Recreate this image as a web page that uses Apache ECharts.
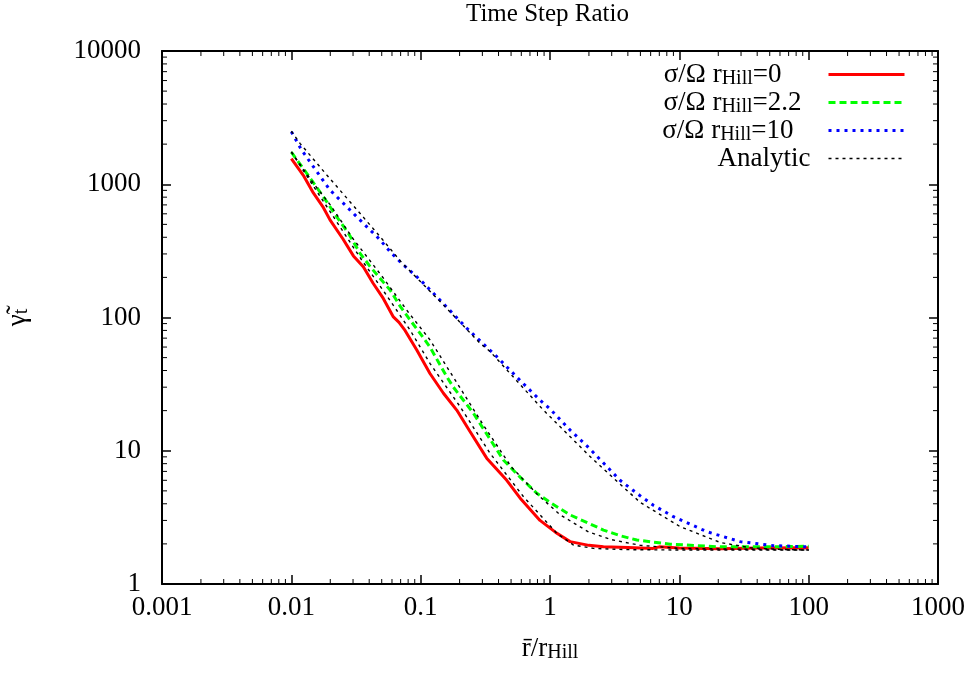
<!doctype html>
<html lang="en">
<head>
    <meta charset="UTF-8">
    <title>Time Step Ratio</title>
    <script src="https://cdn.jsdelivr.net/npm/echarts@6/dist/echarts.min.js"></script>
    <style>
        html, body { margin: 0; padding: 0; background: #fff; }
        #main { width: 971px; height: 674px; }
    </style>
</head>
<body>
<div id="main"></div>
<script type="text/javascript">
    // values: [r/rHill, gamma]
    var sigma0 = [[0.01,1560],[0.0125,1150],[0.0148,860],[0.0175,680],[0.0199,540],[0.025,390],[0.0302,290],[0.036,240],
        [0.043,180],[0.0514,139],[0.0615,101],[0.068,92],[0.0757,80],[0.0933,57],[0.118,38],[0.15,27],[0.19,20.2],
        [0.24,14],[0.324,8.8],[0.463,6.0],[0.6,4.3],[0.837,3.0],[1.1,2.45],[1.43,2.08],[2.0,1.95],[2.59,1.9],[4,1.88],
        [6.27,1.85],[7,1.9],[10,1.86],[20.7,1.84],[40,1.86],[100,1.87]];
    var sigma22 = [[0.01,1740],[0.01315,1208],[0.01766,807],[0.0224,571],[0.028,420],[0.034,303],[0.0407,241],[0.05,190],
        [0.058,161],[0.07,120],[0.0828,96],[0.1,75],[0.118,60],[0.159,36],[0.179,30],[0.256,19.1],[0.35,11.9],
        [0.436,8.53],[0.6,6.2],[0.791,4.8],[1.0,4.1],[1.43,3.3],[2.0,2.85],[2.59,2.54],[3.5,2.3],[4.69,2.14],
        [8.49,1.99],[20.7,1.9],[50,1.9],[100,1.92]];
    var sigma10 = [[0.01,2480],[0.012,1807],[0.0148,1355],[0.0199,905],[0.0268,679],[0.036,509],[0.0485,383],[0.058,312],
        [0.0693,262],[0.1,190],[0.1256,152],[0.2276,83],[0.388,50.8],[0.6,33],[0.837,24],[1.0,20.6],[1.43,14.3],
        [2.0,10.5],[2.44,8.6],[3.48,6.0],[4.97,4.6],[6.3,3.9],[9.0,3.2],[16.3,2.47],[29.5,2.08],[53.5,1.94],[100,1.9]];
    var analytic0 = [[0.01,1750],[0.015,950],[0.02,620],[0.025,445],[0.035,270],[0.0531,152],[0.0828,80.5],[0.118,45.3],
        [0.202,21.4],[0.344,9.57],[0.624,4.52],[1.13,2.4],[1.52,1.96],[2.17,1.85],[4,1.81],[10,1.8],[100,1.8]];
    var analytic22 = [[0.01,1750],[0.015,1000],[0.02,700],[0.03,390],[0.05,205],[0.08,110],[0.118,68],[0.2,30],
        [0.3,16],[0.5,7.6],[0.8,4.7],[1.2,3.3],[2,2.45],[3,2.15],[5,1.95],[10,1.85],[100,1.8]];
    var analytic10 = [[0.01,2500],[0.01167,2028],[0.0188,1173],[0.0302,690],[0.0485,405],[0.0714,258],[0.1456,128],
        [0.288,64],[0.344,55.6],[0.889,20.2],[2.1,8.8],[4.97,4.1],[10.1,2.7],[20.7,2.05],[35.3,1.87],[60,1.82],[100,1.8]];

    var xRange = [0.001, 1000];
    var yRange = [1, 10000];
    var minorSteps = [2, 3, 4, 5, 6, 7, 8, 9];
    var xDecades = [0.001, 0.01, 0.1, 1, 10, 100];
    var yDecades = [1, 10, 100, 1000];

    // gnuplot puts the key text a varying distance before the sample line
    var legendText = {
        sig0: '{a|σ/Ω r}{s|Hill}{a|=0}{g0|}',
        sig22: '{a|σ/Ω r}{s|Hill}{a|=2.2}{g1|}',
        sig10: '{a|σ/Ω r}{s|Hill}{a|=10}{g2|}',
        Analytic: '{a|Analytic}{g3|}'
    };

    var xMinor = [];
    xDecades.forEach(function (d) {
        minorSteps.forEach(function (m) { xMinor.push([+(d * m).toPrecision(6), yRange[0]]); });
    });
    var yMinor = [];
    yDecades.forEach(function (d) {
        minorSteps.forEach(function (m) { yMinor.push([xRange[0], d * m]); });
    });

    var font = 'Liberation Serif';
    var chart = echarts.init(document.getElementById('main'));

    function fmt(v) { return String(+(+v).toPrecision(6)); }

    function tickSeries(data, vertical) {
        return {
            type: 'custom',
            silent: true,
            clip: false,
            data: data,
            z: 10,
            renderItem: function (params, api) {
                var a, b, s = {stroke: '#000', lineWidth: 1};
                if (vertical) {
                    a = api.coord([api.value(0), yRange[0]]);
                    b = api.coord([api.value(0), yRange[1]]);
                    return {type: 'group', children: [
                        {type: 'line', shape: {x1: a[0], y1: a[1], x2: a[0], y2: a[1] - 5}, style: s},
                        {type: 'line', shape: {x1: b[0], y1: b[1], x2: b[0], y2: b[1] + 5}, style: s}
                    ]};
                }
                a = api.coord([xRange[0], api.value(1)]);
                b = api.coord([xRange[1], api.value(1)]);
                return {type: 'group', children: [
                    {type: 'line', shape: {x1: a[0], y1: a[1], x2: a[0] + 5, y2: a[1]}, style: s},
                    {type: 'line', shape: {x1: b[0], y1: b[1], x2: b[0] - 5, y2: b[1]}, style: s}
                ]};
            }
        };
    }

    var axisCommon = {
        type: 'log',
        logBase: 10,
        axisLine: {show: true, onZero: false, lineStyle: {color: '#000', width: 2}},
        axisTick: {show: true, inside: true, length: 9, lineStyle: {color: '#000', width: 1.5}},
        splitLine: {show: false},
        minorTick: {show: false}
    };

    var subRich = {
        a: {fontFamily: font, fontSize: 27, lineHeight: 28, color: '#000'},
        s: {fontFamily: font, fontSize: 20, lineHeight: 12, verticalAlign: 'bottom', color: '#000'}
    };

    var option = {
        backgroundColor: '#fff',
        animation: false,
        title: {
            text: 'Time Step Ratio',
            left: 466,
            top: 0,
            padding: [2, 0, 0, 0],
            textStyle: {fontFamily: font, fontSize: 25, fontWeight: 'normal', color: '#000'}
        },
        grid: {left: 162, right: 33, top: 51, bottom: 90, outerBoundsMode: 'none', containLabel: false},
        legend: {
            data: [
                {name: 'sig0', lineStyle: {width: 3, type: 'solid'}},
                {name: 'sig22', lineStyle: {width: 3, type: [7, 4]}},
                {name: 'sig10', lineStyle: {width: 3, type: [3, 5]}},
                {name: 'Analytic', lineStyle: {width: 1.4, type: [3, 4]}}
            ],
            orient: 'vertical',
            align: 'right',
            right: 65,
            top: 61,
            padding: 0,
            itemWidth: 76,
            itemHeight: 12,
            itemGap: 0.5,
            selectedMode: false,
            itemStyle: {color: 'rgba(0,0,0,0)', borderColor: 'rgba(0,0,0,0)', borderWidth: 0},
            formatter: function (name) { return legendText[name]; },
            textStyle: {
                fontFamily: font, color: '#000',
                rich: {
                    a: subRich.a,
                    s: subRich.s,
                    g0: {width: 42},
                    g1: {width: 22},
                    g2: {width: 30},
                    g3: {width: 13}
                }
            }
        },
        xAxis: [
            Object.assign({}, axisCommon, {
                position: 'bottom', min: xRange[0], max: xRange[1], splitNumber: 6,
                axisLabel: {fontFamily: font, fontSize: 27, color: '#000', margin: 10, formatter: fmt},
                name: '{a|r̄/r}{s|Hill}',
                nameLocation: 'middle',
                nameGap: 51,
                nameTextStyle: {rich: subRich}
            }),
            Object.assign({}, axisCommon, {
                position: 'top', min: xRange[0], max: xRange[1], splitNumber: 6,
                axisLabel: {show: false}
            })
        ],
        yAxis: [
            Object.assign({}, axisCommon, {
                position: 'left', min: yRange[0], max: yRange[1], splitNumber: 4,
                axisLabel: {fontFamily: font, fontSize: 27, color: '#000', margin: 21, formatter: fmt},
                name: '{a|γ̃}{s|t}',
                nameLocation: 'middle',
                nameRotate: 90,
                nameGap: 130,
                nameTextStyle: {rich: subRich}
            }),
            Object.assign({}, axisCommon, {
                position: 'right', min: yRange[0], max: yRange[1], splitNumber: 4,
                axisLabel: {show: false}
            })
        ],
        series: [
            {name: 'sig0', type: 'line', data: sigma0, symbol: 'none', lineStyle: {color: '#ff0000', width: 3}, itemStyle: {color: '#ff0000'}},
            {name: 'sig22', type: 'line', data: sigma22, symbol: 'none', lineStyle: {color: '#00ff00', width: 3, type: [7, 4]}, itemStyle: {color: '#00ff00'}},
            {name: 'sig10', type: 'line', data: sigma10, symbol: 'none', lineStyle: {color: '#0000ff', width: 3, type: [3, 5]}, itemStyle: {color: '#0000ff'}},
            {name: 'Analytic', type: 'line', data: analytic0, symbol: 'none', lineStyle: {color: '#000', width: 1.4, type: [3, 4]}, itemStyle: {color: '#000'}},
            {name: 'Analytic', type: 'line', data: analytic22, symbol: 'none', lineStyle: {color: '#000', width: 1.4, type: [3, 4]}, itemStyle: {color: '#000'}},
            {name: 'Analytic', type: 'line', data: analytic10, symbol: 'none', lineStyle: {color: '#000', width: 1.4, type: [3, 4]}, itemStyle: {color: '#000'}},
            tickSeries(xMinor, true),
            tickSeries(yMinor, false)
        ]
    };
    chart.setOption(option);
</script>
</body>
</html>
